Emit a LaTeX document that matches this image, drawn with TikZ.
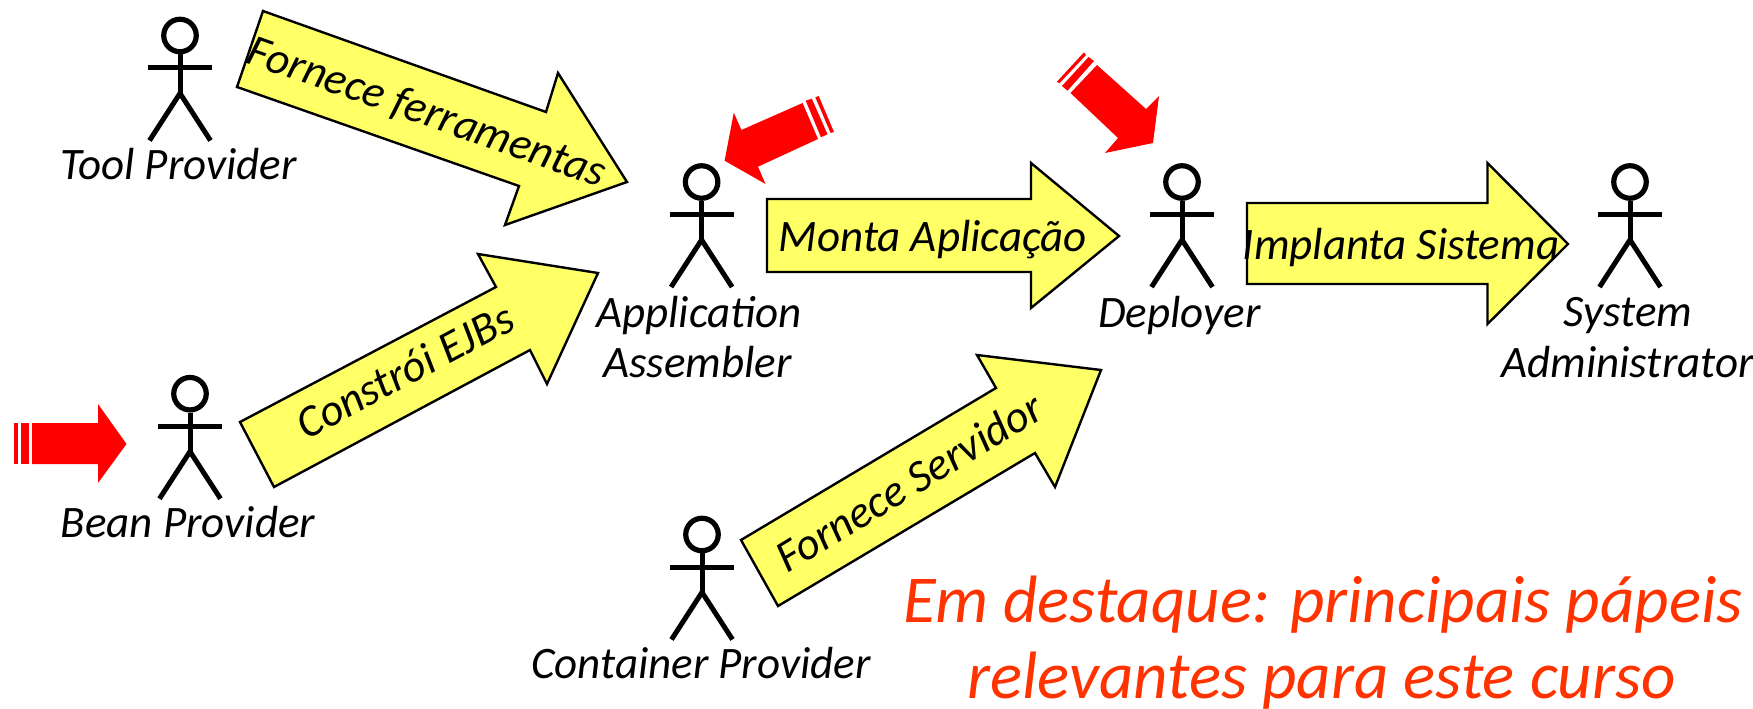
\documentclass[tikz,border=0pt]{standalone}
\usepackage{fontspec}
\setmainfont{Carlito}
\newcommand{\actorfig}[3]{%
  \node[actorhead] (#3) at (#1,#2) {};
  \draw[actorline] (#3.south) -- ++(0,39) coordinate (#3hip);
  \draw[actorline] (#1-32,#2+32.5) -- (#1+32,#2+32.5);
  \draw[actorline] (#1-30.5,#2+105) -- (#3hip) -- (#1+30.5,#2+105);
}
\tikzset{
  actorhead/.style={circle,draw=black,line width=5.2pt,minimum size=32.5pt,inner sep=0pt},
  actorline/.style={draw=black,line width=5pt,line join=miter},
  blockarrow/.style={draw=black,fill=arrowyellow,line width=2.4pt,line join=miter},
  redarrow/.style={fill=red,draw=none},
  lbl/.style={inner sep=0pt,font=\fontsize{45}{51}\selectfont\itshape,anchor=base},
  note/.style={inner sep=0pt,font=\fontsize{67}{76}\selectfont\itshape,anchor=base,text=noteorange},
}
\definecolor{arrowyellow}{HTML}{FFFF66}
\definecolor{noteorange}{HTML}{FF3300}
\begin{document}
\begin{tikzpicture}[x=1pt,y=-1pt]
\useasboundingbox (0,0) rectangle (1753,709);
% yellow block arrows
\draw[blockarrow] (263,11) -- (546,112) -- (558,73) -- (627,182) -- (505,225) -- (519,186) -- (237,87) -- cycle;
\draw[blockarrow] (240,422) -- (496,287) -- (478,254) -- (598,273) -- (547,384) -- (530,350) -- (274,487) -- cycle;
\draw[blockarrow] (767,199) -- (1031,199) -- (1031,163) -- (1119,236) -- (1031,308) -- (1031,272) -- (767,272) -- cycle;
\draw[blockarrow] (1247,203) -- (1487.5,203) -- (1487.5,163) -- (1568,244) -- (1487.5,324) -- (1487.5,284) -- (1247,284) -- cycle;
\draw[blockarrow] (741,540) -- (996,388) -- (977,355) -- (1101,370) -- (1055,487) -- (1035,453) -- (778,606) -- cycle;
% red arrows: Bean Provider
\fill[redarrow] (32,423) -- (98,423) -- (98,404) -- (126.5,444) -- (98,483) -- (98,464) -- (32,464) -- cycle;
\fill[redarrow] (21,423) rectangle (29,464);
\fill[redarrow] (14,423) rectangle (18,464);
% red arrows: Application Assembler
\fill[redarrow] (724.6,160.7) -- (733.8,112.7) -- (741.4,130) -- (802.6,103) -- (818,139) -- (758,166.7) -- (765.5,184) -- cycle;
\fill[redarrow] (805.7,100.7) -- (811.8,98.7) -- (827.5,134.3) -- (821,137.3) -- cycle;
\fill[redarrow] (815.3,97.3) -- (818.7,96) -- (834,132) -- (830.6,133) -- cycle;
% red arrows: Deployer
\fill[redarrow] (1153,143) -- (1159,96) -- (1146,109) -- (1097,65) -- (1070.5,93) -- (1118,138) -- (1105,153) -- cycle;
\fill[redarrow] (1094,61) -- (1088.6,57) -- (1062,86) -- (1067.5,90.7) -- cycle;
\fill[redarrow] (1086,55) -- (1084,52.3) -- (1057,81.7) -- (1059.4,83.3) -- cycle;
% actors
\actorfig{180}{35.5}{tool}
\actorfig{190}{393.7}{bean}
\actorfig{701.6}{182}{assembler}
\actorfig{1182}{182}{deployer}
\actorfig{1630}{182}{sysadmin}
\actorfig{702}{534.5}{container}
% actor labels
\node[lbl] (toolL) at (178.5,179) {Tool Provider};
\node[lbl] (beanL) at (188,537) {Bean Provider};
\node[lbl] (appL) at (699,327) {Application};
\node[lbl] (asmL) at (697.5,377) {Assembler};
\node[lbl] (depL) at (1179.5,327) {Deployer};
\node[lbl] (sysL) at (1628,326) {System};
\node[lbl] (admL) at (1627.5,377) {Administrator};
\node[lbl] (conL) at (701,678) {Container Provider};
% arrow labels
\node[lbl,rotate=-19.4] (a1) at (422.5,125) {Fornece ferramentas};
\node[lbl,rotate=28] (a2) at (412,384) {Constrói EJBs};
\node[lbl] (a3) at (933,251) {Monta Aplicação};
\node[lbl] (a4) at (1401,259) {Implanta Sistema};
\node[lbl,rotate=31.2] (a5) at (917,495) {Fornece Servidor};
% note
\node[note] (n1) at (1323,622) {Em destaque: principais pápeis};
\node[note] (n2) at (1321.5,698) {relevantes para este curso};
\end{tikzpicture}
\end{document}
